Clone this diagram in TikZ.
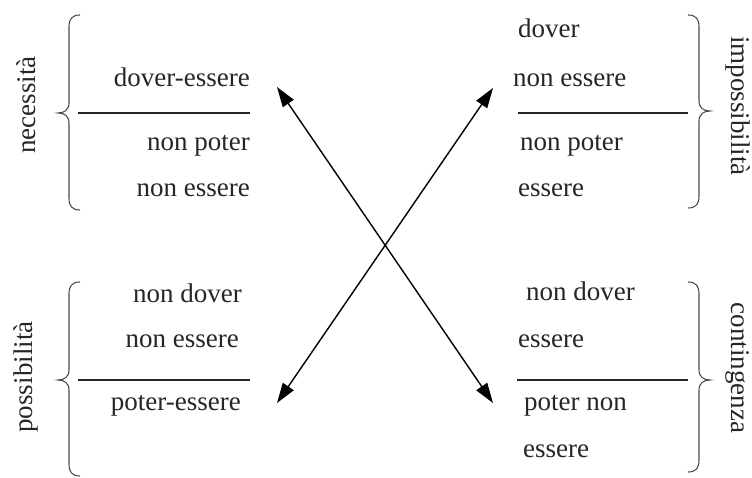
\documentclass[tikz,border=0pt]{standalone}
\usepackage{fontspec}
\setmainfont{Liberation Serif}
\usetikzlibrary{arrows.meta}

% curly braces: #1 = top y, #2 = tip y, #3 = bottom y
\newcommand{\CurlLeft}[3]{%
  \draw[curl] (80,#1) .. controls (72,#1) and (69,#1+4) .. (69,#1+12)
    -- (69,#2-10) .. controls (69,#2-3) and (64,#2) .. (58,#2)
    .. controls (64,#2) and (69,#2+3) .. (69,#2+10)
    -- (69,#3-12) .. controls (69,#3-4) and (72,#3) .. (80,#3);}
\newcommand{\CurlRight}[3]{%
  \draw[curl] (688,#1) .. controls (696,#1) and (699,#1+4) .. (699,#1+12)
    -- (699,#2-10) .. controls (699,#2-3) and (704,#2) .. (710,#2)
    .. controls (704,#2) and (699,#2+3) .. (699,#2+10)
    -- (699,#3-12) .. controls (699,#3-4) and (696,#3) .. (688,#3);}

\begin{document}
\begin{tikzpicture}[x=1pt,y=-1pt,
  word/.style={inner sep=0pt,font=\fontsize{27}{30}\selectfont,text=black!85},
  wr/.style={word,anchor=base east},
  wl/.style={word,anchor=base west},
  side/.style={word,anchor=center},
  rule/.style={line width=1.3pt,black!85},
  curl/.style={line width=1.1pt,black!70},
  link/.style={line width=1.4pt,{Triangle[length=20pt,width=13pt]}-{Triangle[length=20pt,width=13pt]}}]

\useasboundingbox[fill=white] (0,0) rectangle (752,478);

% necessita'
\node[wr] (nd) at (250,87) {dover-essere};
\node[wr] (np) at (250,151) {non poter};
\node[wr] (ne) at (250,197) {non essere};
\draw[rule] (78,113) -- (250,113);
\CurlLeft{15}{113}{210}
\node[side,rotate=90] (nec) at (26,105) {necessità};

% impossibilita'
\node[wl] (id) at (518,38) {dover};
\node[wl] (ine) at (513,87) {non essere};
\node[wl] (inp) at (520,151) {non poter};
\node[wl] (ie) at (518,197) {essere};
\draw[rule] (518,113) -- (688,113);
\CurlRight{15}{111}{208}
\node[side,rotate=-90] (imp) at (738,106) {impossibilità};

% possibilita'
\node[wr] (pd) at (242,302) {non dover};
\node[wr] (pne) at (239,347) {non essere};
\node[wr] (pe) at (241,410) {poter-essere};
\draw[rule] (78,380) -- (250,380);
\CurlLeft{282}{380}{476}
\node[side,rotate=90] (pos) at (26,377) {possibilità};

% contingenza
\node[wl] (cd) at (526,300) {non dover};
\node[wl] (ce) at (518,347) {essere};
\node[wl] (cp) at (524,410) {poter non};
\node[wl] (ce2) at (523,457) {essere};
\draw[rule] (517,380) -- (688,380);
\CurlRight{282}{380}{472}
\node[side,rotate=-90] (con) at (738,368) {contingenza};

% arrow ends
\coordinate (tl) at (277,87);
\coordinate (tr) at (493,88);
\coordinate (bl) at (277,403);
\coordinate (br) at (493,403);
\draw[link] (tl) -- (br);
\draw[link] (bl) -- (tr);
\end{tikzpicture}
\end{document}
